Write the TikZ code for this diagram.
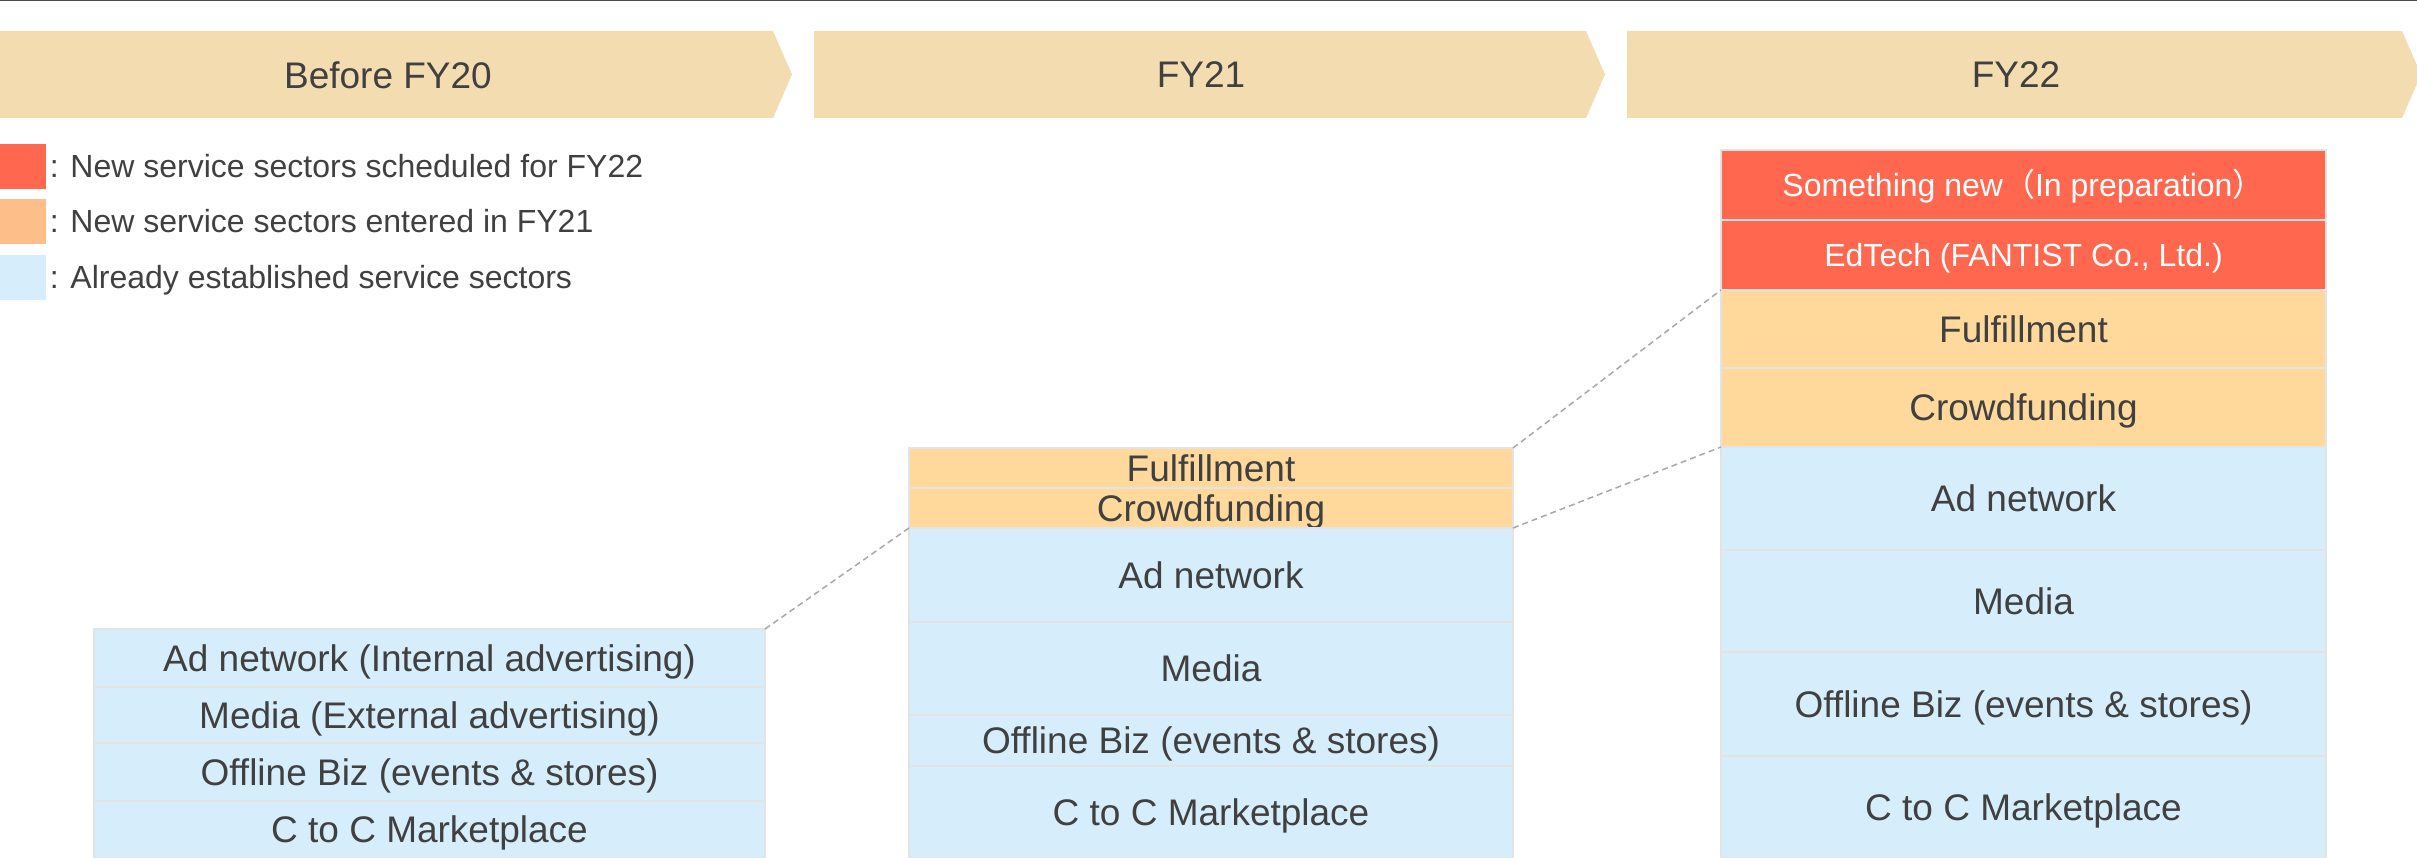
\documentclass[tikz,border=0pt]{standalone}
\usepackage{fontspec}
\setmainfont{Liberation Sans}
\newfontfamily\cjk{Noto Sans CJK JP}
\usepackage{tikz}
\usetikzlibrary{positioning}

\definecolor{hdrfill}{HTML}{F3DCB0}
\definecolor{txtgray}{HTML}{404040}
\definecolor{redfill}{HTML}{FF674F}
\definecolor{legorange}{HTML}{FDBE8A}
\definecolor{orangefill}{HTML}{FFD89B}
\definecolor{bluefill}{HTML}{D6EDFB}
\definecolor{sepgray}{HTML}{E3E3E3}
\definecolor{dashgray}{HTML}{A8A8A8}
\definecolor{rulegray}{HTML}{4D4D4D}

\newcommand{\bigsz}{\fontsize{37}{44}\selectfont}
\newcommand{\smallsz}{\fontsize{32}{38}\selectfont}

\begin{document}
\begin{tikzpicture}[x=1pt, y=-1pt, line width=1.5pt,
  hdrtxt/.style={text=txtgray, font=\bigsz, inner sep=0pt},
  cell/.style={draw=sepgray, anchor=north west, inner sep=0pt, outer sep=0pt,
    text height=26.5pt, text depth=0pt, text=txtgray, font=\bigsz},
  bluecell/.style={cell, fill=bluefill},
  orangecell/.style={cell, fill=orangefill},
  redcell/.style={cell, fill=redfill, text=white, font=\smallsz, text height=22.9pt},
  legbox/.style={anchor=north west, inner sep=0pt, outer sep=0pt,
    minimum width=46pt, minimum height=45pt},
  legtxt/.style={text=txtgray, font=\smallsz, inner sep=0pt,
    text height=22.9pt, text depth=0pt},
  link/.style={draw=dashgray, dash pattern=on 6pt off 4pt}]

\useasboundingbox (0,0) rectangle (2417,858);

\draw[rulegray] (0,0.75)--(2417,0.75);

% year headers
\fill[hdrfill] (0,31)--(773,31)--(792,74.5)--(773,118)--(0,118)--cycle;
\fill[hdrfill] (814,31)--(1586,31)--(1605,74.5)--(1586,118)--(814,118)--cycle;
\fill[hdrfill] (1627,31)--(2402,31)--(2421,74.5)--(2402,118)--(1627,118)--cycle;
\node[hdrtxt] (fy20) at (388,75) {Before FY20};
\node[hdrtxt] (fy21) at (1201,75) {FY21};
\node[hdrtxt] (fy22) at (2016,75) {FY22};

% legend
\node[legbox, fill=redfill] (kred) at (0,144) {};
\node[legbox, fill=legorange] (korange) at (0,199) {};
\node[legbox, fill=bluefill] (kblue) at (0,255) {};
\node[legtxt, right=3pt of kred] (kredt) {: New service sectors scheduled for FY22};
\node[legtxt, right=3pt of korange] (korangt) {: New service sectors entered in FY21};
\node[legtxt, right=3pt of kblue] (kbluet) {: Already established service sectors};

% before FY20
\node[bluecell, minimum width=671pt, minimum height=58pt] (c1a) at (94,629) {Ad network (Internal advertising)};
\node[bluecell, minimum width=671pt, minimum height=56pt] (c1b) at (94,687) {Media (External advertising)};
\node[bluecell, minimum width=671pt, minimum height=58pt] (c1c) at (94,743) {Offline Biz (events \& stores)};
\node[bluecell, minimum width=671pt, minimum height=57pt] (c1d) at (94,801) {C to C Marketplace};

% FY21
\node[orangecell, minimum width=604pt, minimum height=40pt] (c2a) at (909,448) {Fulfillment};
\node[orangecell, minimum width=604pt, minimum height=40pt] (c2b) at (909,488) {Crowdfunding};
\node[bluecell, minimum width=604pt, minimum height=94pt] (c2c) at (909,528) {Ad network};
\node[bluecell, minimum width=604pt, minimum height=93pt] (c2d) at (909,622) {Media};
\node[bluecell, minimum width=604pt, minimum height=51pt] (c2e) at (909,715) {Offline Biz (events \& stores)};
\node[bluecell, minimum width=604pt, minimum height=92pt] (c2f) at (909,766) {C to C Marketplace};

% FY22
\node[redcell, minimum width=605pt, minimum height=70pt] (c3a) at (1721,150) {Something new{\cjk （}In preparation{\cjk ）}};
\node[redcell, minimum width=605pt, minimum height=70pt] (c3b) at (1721,220) {EdTech (FANTIST Co., Ltd.)};
\node[orangecell, minimum width=605pt, minimum height=78pt] (c3c) at (1721,290) {Fulfillment};
\node[orangecell, minimum width=605pt, minimum height=79pt] (c3d) at (1721,368) {Crowdfunding};
\node[bluecell, minimum width=605pt, minimum height=103pt] (c3e) at (1721,447) {Ad network};
\node[bluecell, minimum width=605pt, minimum height=102pt] (c3f) at (1721,550) {Media};
\node[bluecell, minimum width=605pt, minimum height=104pt] (c3g) at (1721,652) {Offline Biz (events \& stores)};
\node[bluecell, minimum width=605pt, minimum height=102pt] (c3h) at (1721,756) {C to C Marketplace};

\draw[link] (c1a.north east)--(c2c.north west);
\draw[link] (c2a.north east)--(c3c.north west);
\draw[link] (c2b.south east)--(c3d.south west);
\end{tikzpicture}
\end{document}
